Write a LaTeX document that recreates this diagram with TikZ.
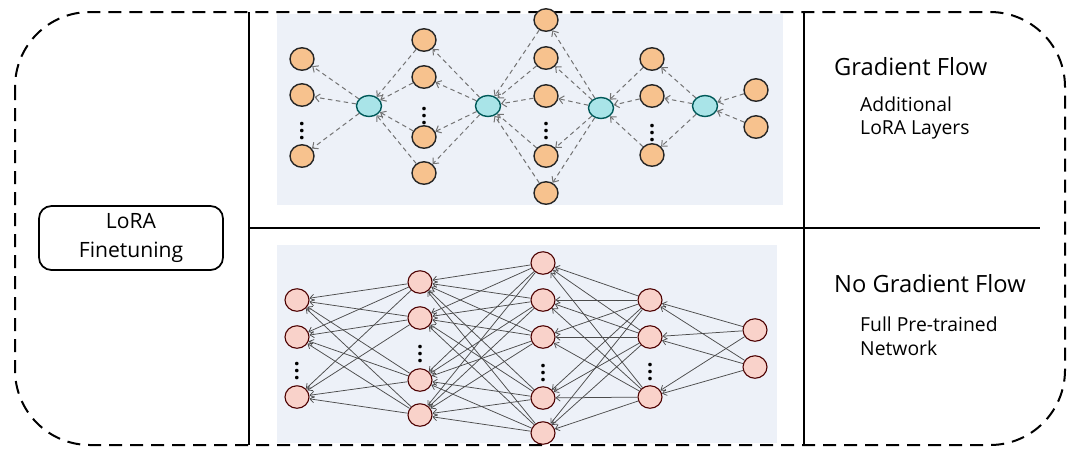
\documentclass[tikz,border=0pt]{standalone}
\usepackage{fontspec}
\setmainfont{Open Sans}
\usepackage{xcolor}
\usepackage{tikz}
\usetikzlibrary{shapes.geometric,arrows.meta}

\definecolor{loraorange}{HTML}{F7C28E}
\definecolor{loracyan}{HTML}{A9E4E8}
\definecolor{pretrained}{HTML}{F9D2CA}
\definecolor{panelbg}{HTML}{EDF1F8}

\begin{document}
\begin{tikzpicture}[x=0.2mm, y=-0.2mm,
  lora/.style={ellipse, draw=black!85, line width=0.28mm, fill=loraorange, minimum width=4.8mm, minimum height=4.5mm, inner sep=0pt},
  adapter/.style={ellipse, draw=teal!70!black, line width=0.28mm, fill=loracyan, minimum width=5mm, minimum height=4.2mm, inner sep=0pt},
  frozen/.style={ellipse, draw=black!70!red, line width=0.22mm, fill=pretrained, minimum width=4.8mm, minimum height=4.5mm, inner sep=0pt},
  vdots/.style={inner sep=0pt, font=\bfseries\large},
  grad/.style={->, draw=black!55, line width=0.2mm, dash pattern=on 0.9mm off 0.7mm, >={Straight Barb[length=0.9mm,width=1.6mm]}},
  fwd/.style={->, draw=black!70, line width=0.15mm, >={Straight Barb[length=0.8mm,width=1.3mm]}},
  title/.style={font=\fontsize{13.5}{16}\selectfont},
  note/.style={font=\fontsize{11}{13.5}\selectfont, align=left, anchor=west},
]
\useasboundingbox (0,0) rectangle (1080,459);

% outer frame and panels
\draw[line width=0.4mm, dash pattern=on 2.6mm off 1.6mm, rounded corners=15mm] (15,12) rectangle (1065,445);
\fill[panelbg] (277,14) rectangle (783,205);
\fill[panelbg] (277,245) rectangle (777,443);
\draw[line width=0.4mm] (249,12) -- (249,445);
\draw[line width=0.4mm] (804,12) -- (804,445);
\draw[line width=0.4mm] (249,228) -- (1040,228);

\node[draw, line width=0.35mm, rounded corners=2.5mm, minimum width=36.8mm, minimum height=12.8mm, align=center, font=\fontsize{12}{17}\selectfont] (box) at (131,238) {LoRA\\Finetuning};

% LoRA layers
\node[lora] (t1a) at (302,59) {};
\node[lora] (t1b) at (302,95) {};
\node[vdots] (t1d) at (302,126) {$\vdots$};
\node[lora] (t1c) at (302,156) {};
\node[adapter] (g1) at (369,106) {};
\node[lora] (t2a) at (424,40) {};
\node[lora] (t2b) at (424,77) {};
\node[vdots] (t2d) at (424,111) {$\vdots$};
\node[lora] (t2c) at (424,137) {};
\node[lora] (t2e) at (424,173) {};
\node[adapter] (g2) at (488,106) {};
\node[lora] (t3a) at (546,20) {};
\node[lora] (t3b) at (546,58) {};
\node[lora] (t3c) at (546,96) {};
\node[vdots] (t3d) at (546,126) {$\vdots$};
\node[lora] (t3e) at (546,156) {};
\node[lora] (t3f) at (546,193) {};
\node[adapter] (g3) at (601,108) {};
\node[lora] (t4a) at (652,59) {};
\node[lora] (t4b) at (652,96) {};
\node[vdots] (t4d) at (652,128) {$\vdots$};
\node[lora] (t4c) at (652,155) {};
\node[adapter] (g4) at (705,106) {};
\node[lora] (t5a) at (756,90) {};
\node[lora] (t5b) at (756,127) {};

\foreach \n in {t1a,t1b,t1c} \draw[grad] (g1) -- (\n);
\foreach \n in {t2a,t2b,t2c,t2e} {\draw[grad] (\n) -- (g1); \draw[grad] (g2) -- (\n);}
\foreach \n in {t3a,t3b,t3c,t3e,t3f} {\draw[grad] (\n) -- (g2); \draw[grad] (g3) -- (\n);}
\foreach \n in {t4a,t4b,t4c} {\draw[grad] (\n) -- (g3); \draw[grad] (g4) -- (\n);}
\foreach \n in {t5a,t5b} \draw[grad] (\n) -- (g4);

% pre-trained network
\node[frozen] (b1a) at (297,300) {};
\node[frozen] (b1b) at (297,337) {};
\node[vdots] (b1d) at (297,366) {$\vdots$};
\node[frozen] (b1c) at (297,397) {};
\node[frozen] (b2a) at (420,282) {};
\node[frozen] (b2b) at (420,318) {};
\node[vdots] (b2d) at (420,349) {$\vdots$};
\node[frozen] (b2c) at (420,380) {};
\node[frozen] (b2e) at (420,415) {};
\node[frozen] (b3a) at (543,263) {};
\node[frozen] (b3b) at (543,300) {};
\node[frozen] (b3c) at (543,337) {};
\node[vdots] (b3d) at (543,368) {$\vdots$};
\node[frozen] (b3e) at (543,398) {};
\node[frozen] (b3f) at (543,433) {};
\node[frozen] (b4a) at (650,300) {};
\node[frozen] (b4b) at (650,337) {};
\node[vdots] (b4d) at (650,367) {$\vdots$};
\node[frozen] (b4c) at (650,397) {};
\node[frozen] (b5a) at (755,330) {};
\node[frozen] (b5b) at (755,367) {};

\foreach \s in {b2a,b2b,b2c,b2e} \foreach \t in {b1a,b1b,b1c} \draw[fwd] (\s) -- (\t);
\foreach \s in {b3a,b3b,b3c,b3e,b3f} \foreach \t in {b2a,b2b,b2c,b2e} \draw[fwd] (\s) -- (\t);
\foreach \s in {b4a,b4b,b4c} \foreach \t in {b3a,b3b,b3c,b3e,b3f} \draw[fwd] (\s) -- (\t);
\foreach \s in {b5a,b5b} \foreach \t in {b4a,b4b,b4c} \draw[fwd] (\s) -- (\t);

% labels
\node[title, anchor=west] (gf) at (828,67) {Gradient Flow};
\node[note] (add) at (854,118) {Additional\\LoRA Layers};
\node[title, anchor=west] (ngf) at (828,284) {No Gradient Flow};
\node[note] (full) at (854,336) {Full Pre-trained\\Network};
\end{tikzpicture}
\end{document}
